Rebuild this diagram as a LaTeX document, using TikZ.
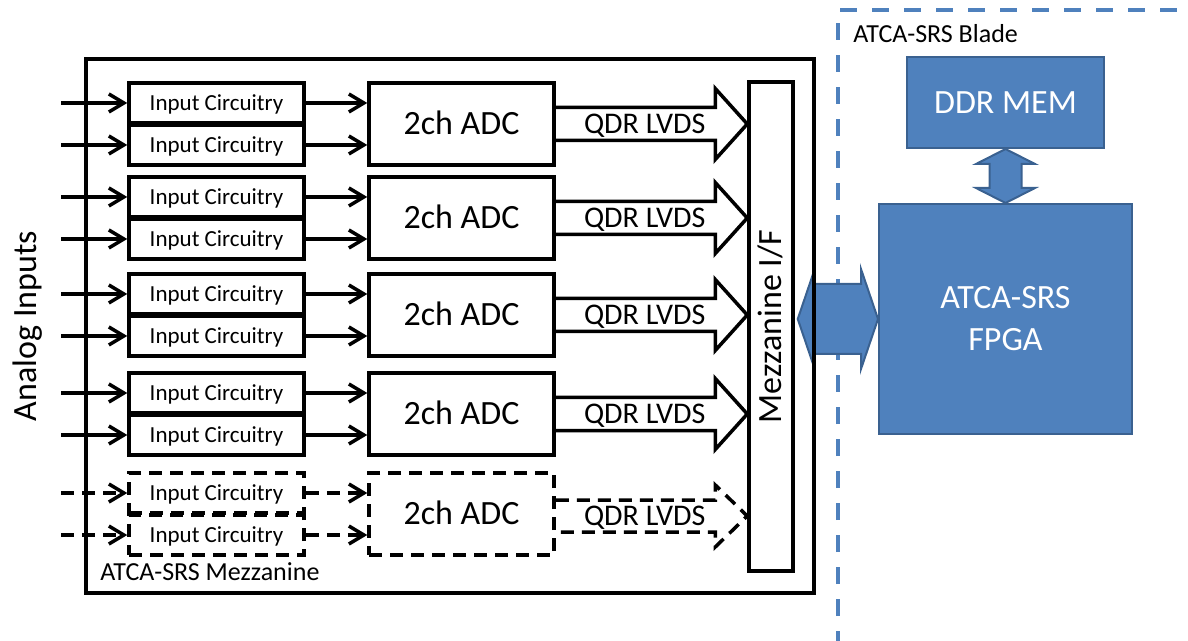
\documentclass[tikz,border=0pt]{standalone}
\usepackage{fontspec}
\setmainfont{Carlito}
\usetikzlibrary{arrows.meta,calc}
\definecolor{ofblue}{HTML}{4F81BD}
\definecolor{ofedge}{HTML}{3A6190}
\begin{document}
\begin{tikzpicture}[x=0.5pt,y=-0.5pt,
  blk/.style={draw=black,line width=1.75pt,inner sep=0pt},
  inbox/.style={blk,minimum width=87.5pt,minimum height=20pt,font=\fontsize{11.5}{13}\selectfont,text height=7.4pt,text depth=0pt},
  adcbox/.style={blk,minimum width=92.5pt,minimum height=41pt,font=\fontsize{17}{20}\selectfont,text height=10.9pt,text depth=0pt},
  sig/.style={line width=1.75pt,-{Straight Barb[length=7.5pt,width=9pt]}},
  dsh/.style={dash pattern=on 6.5pt off 4pt},
  qdr/.style={line width=1.75pt,line join=miter},
  qdrtext/.style={font=\fontsize{15}{18}\selectfont,inner sep=0pt,text height=9.7pt,text depth=0pt},
  bluebox/.style={fill=ofblue,draw=ofedge,line width=1pt,text=white,font=\fontsize{17}{21}\selectfont,inner sep=0pt,align=center},
  bluearrow/.style={fill=ofblue,draw=ofedge,line width=1pt,line join=miter},
  bladeline/.style={draw=ofblue,line width=1.75pt,dash pattern=on 8.5pt off 7.5pt},
  bigtext/.style={font=\fontsize{17}{20}\selectfont,inner sep=0pt,text height=10.9pt,text depth=0pt},
  smalltext/.style={font=\fontsize{13}{15}\selectfont,inner sep=0pt,text height=8.4pt,text depth=0pt}
]
\useasboundingbox (0,0) rectangle (1188,641);
% blade frame
\begin{scope}
\clip (0,0) rectangle (1188,641);
\draw[bladeline] (838,680) -- (838,10) -- (1230,10);
\end{scope}
\node[smalltext,anchor=west] (bladelbl) at (853,34.3) {ATCA-SRS Blade};

% blade blocks
\node[bluebox,minimum width=126.5pt,minimum height=115pt] (fpga) at (1005.5,319) {ATCA-SRS\\FPGA};
\node[bluebox,minimum width=98.5pt,minimum height=45.5pt,text height=10.9pt,text depth=0pt] (ddr) at (1005.5,102.5) {DDR MEM};

% mezzanine interface
\node[blk,minimum width=22pt,minimum height=244.5pt,
      label={[bigtext,rotate=90]center:Mezzanine I/F}] (mif) at (771,326.5) {};

% blue double arrows
\coordinate (hl) at ($(mif.east |- fpga.west)+(3,0)$);
\coordinate (hr) at (fpga.west);
\draw[bluearrow] (hl) -- ($(hl)+(17,-50)$) -- ($(hl)+(17,-35)$) -- ($(hr)+(-17,-35)$)
  -- ($(hr)+(-17,-50)$) -- (hr) -- ($(hr)+(-17,50)$) -- ($(hr)+(-17,35)$)
  -- ($(hl)+(17,35)$) -- ($(hl)+(17,50)$) -- cycle;
\coordinate (vt) at (ddr.south);
\coordinate (vb) at (fpga.north);
\draw[bluearrow] (vt) -- ($(vt)+(29.5,15)$) -- ($(vt)+(16,15)$) -- ($(vb)+(16,-15)$)
  -- ($(vb)+(29.5,-15)$) -- (vb) -- ($(vb)+(-29.5,-15)$) -- ($(vb)+(-16,-15)$)
  -- ($(vt)+(-16,15)$) -- ($(vt)+(-29.5,15)$) -- cycle;

% mezzanine outer box
\node[blk,minimum width=364pt,minimum height=267pt] (mezz) at (450,326) {};
\node[smalltext,anchor=west] (mezzlbl) at (100,572.5) {ATCA-SRS Mezzanine};
\node[bigtext,rotate=90] (analog) at (26,326) {Analog Inputs};

% solid channel groups
\foreach \i/\t in {1/83,2/177,3/274,4/373} {
  \node[inbox] (ina\i) at (216.5,\t+20) {Input Circuitry};
  \node[inbox] (inb\i) at (216.5,\t+62) {Input Circuitry};
  \node[adcbox] (adc\i) at (461.5,\t+41) {2ch ADC};
  \coordinate (sa\i) at ($(ina\i.west)+(-66,0)$);
  \coordinate (sb\i) at ($(inb\i.west)+(-66,0)$);
  \draw[sig] (sa\i) -- (ina\i.west);
  \draw[sig] (sb\i) -- (inb\i.west);
  \draw[sig] (ina\i.east) -- (ina\i.east -| adc\i.west);
  \draw[sig] (inb\i.east) -- (inb\i.east -| adc\i.west);
  \coordinate (q\i) at (adc\i.east);
  \coordinate (t\i) at (adc\i.east -| mif.west);
  \draw[qdr] ($(q\i)+(0,-16.5)$) -- ($(t\i)+(-32,-16.5)$) -- ($(t\i)+(-32,-35.5)$)
    -- (t\i) -- ($(t\i)+(-32,35.5)$) -- ($(t\i)+(-32,16.5)$) -- ($(q\i)+(0,16.5)$);
  \node[qdrtext] (ql\i) at ($(q\i)+(89,0)$) {QDR LVDS};
}

% dashed (optional) channel group
\node[inbox,dsh] (ina5) at (216.5,493) {Input Circuitry};
\node[inbox,dsh] (inb5) at (216.5,535) {Input Circuitry};
\node[adcbox,dsh] (adc5) at (461.5,514) {2ch ADC};
\coordinate (sa5) at ($(ina5.west)+(-66,0)$);
\coordinate (sb5) at ($(inb5.west)+(-66,0)$);
\draw[sig,dsh] (sa5) -- (ina5.west);
\draw[sig,dsh] (sb5) -- (inb5.west);
\draw[sig,dsh] (ina5.east) -- (ina5.east -| adc5.west);
\draw[sig,dsh] (inb5.east) -- (inb5.east -| adc5.west);
\coordinate (q5) at ($(adc5.east)+(0,2)$);
\coordinate (t5) at ($(adc5.east -| mif.west)+(0,2)$);
\draw[qdr,dsh] ($(q5)+(0,-16)$) -- ($(t5)+(-32,-16)$) -- ($(t5)+(-32,-31)$)
  -- (t5) -- ($(t5)+(-32,31)$) -- ($(t5)+(-32,16)$) -- ($(q5)+(0,16)$);
\node[qdrtext] (ql5) at ($(q5)+(89,0)$) {QDR LVDS};
\end{tikzpicture}
\end{document}
